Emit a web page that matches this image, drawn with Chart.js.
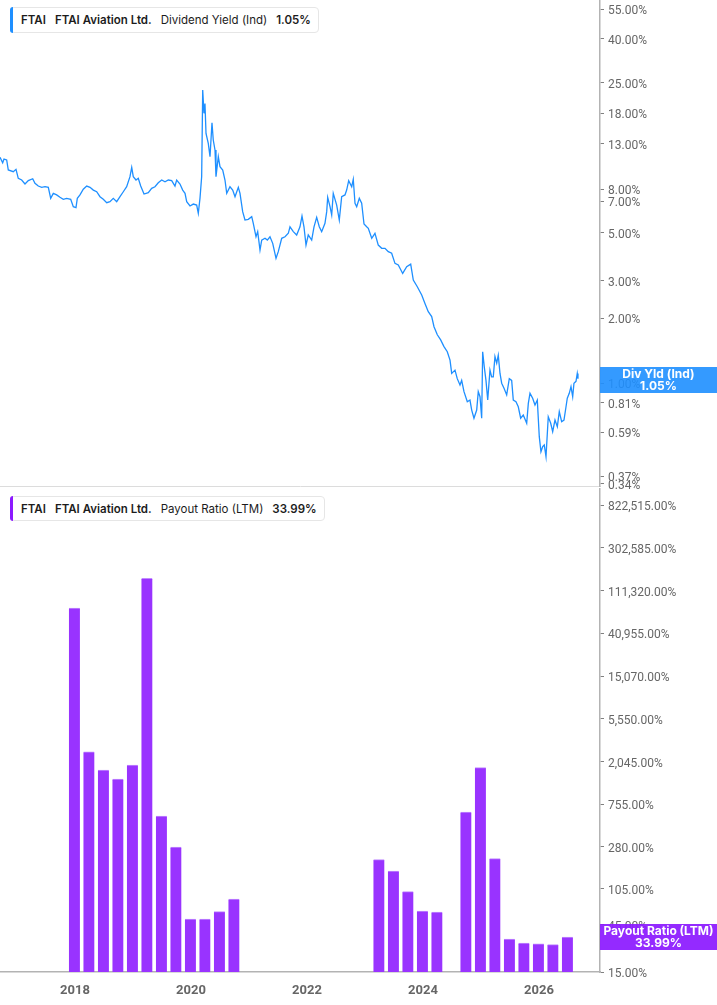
<!DOCTYPE html>
<html lang="en">
<head>
<meta charset="UTF-8">
<title>FTAI - Dividend Yield / Payout Ratio</title>
<script src="https://cdn.jsdelivr.net/npm/chart.js"></script>
<style>
    body { margin: 0; width: 717px; height: 1005px; position: relative; overflow: hidden; background: #fff; font-family: Inter, "Noto Sans", sans-serif; }
    canvas { position: absolute; left: 0; }
    #grafTopo { top: 0; }
    #grafBaixo { top: 488px; }
    .legenda { position: absolute; left: 10px; height: 26px; box-sizing: border-box; background: #fff; border: 1px solid #e6e6e6; border-radius: 4px;
               display: flex; align-items: center; padding: 0 7px 0 10px; font-size: 11.5px; color: #1c1c1c; white-space: nowrap; z-index: 3; }
    .legenda::before { content: ''; position: absolute; left: -1px; top: -1px; bottom: -1px; width: 3px; border-radius: 3px 0 0 3px; background: var(--cor); }
    .legenda b { font-weight: 600; margin-right: 9px; }
    .legenda span { margin-right: 9px; }
    .legenda b:last-child { margin-right: 0; }
    .selo { position: absolute; left: 600px; width: 117px; height: 26px; color: #fff; font-weight: 700; font-size: 12px; line-height: 12px;
            text-align: center; display: flex; flex-direction: column; justify-content: center; z-index: 3; }
</style>
</head>
<body>
    <canvas id="grafTopo" width="717" height="492"></canvas>
    <canvas id="grafBaixo" width="717" height="517"></canvas>

    <div class="legenda" style="top: 7px; --cor: #1e8fff;">
        <b>FTAI</b><b>FTAI Aviation Ltd.</b><span>Dividend Yield (Ind)</span><b>1.05%</b>
    </div>
    <div class="legenda" style="top: 496px; height: 25px; --cor: #8c1aff;">
        <b>FTAI</b><b>FTAI Aviation Ltd.</b><span>Payout Ratio (LTM)</span><b>33.99%</b>
    </div>

    <div class="selo" style="top: 367px; background: rgba(30, 143, 255, 0.9);">Div Yld (Ind)<br>1.05%</div>
    <div class="selo" style="top: 924px; background: rgba(140, 26, 255, 0.93);">Payout Ratio (LTM)<br>33.99%</div>

<script>
    // datas em anos decimais
    const divDates = [
        2016.707, 2016.753, 2016.776, 2016.822, 2016.850, 2016.936, 2016.983, 2017.022, 2017.081, 2017.138,
        2017.195, 2017.271, 2017.310, 2017.367, 2017.426, 2017.483, 2017.540, 2017.581, 2017.626, 2017.684,
        2017.741, 2017.798, 2017.857, 2017.926, 2017.971, 2018.017, 2018.040, 2018.086, 2018.143, 2018.202,
        2018.259, 2018.316, 2018.374, 2018.431, 2018.488, 2018.547, 2018.603, 2018.660, 2018.719, 2018.776,
        2018.833, 2018.891, 2018.948, 2018.978, 2019.005, 2019.052, 2019.091, 2019.133, 2019.190, 2019.264,
        2019.322, 2019.379, 2019.436, 2019.495, 2019.552, 2019.609, 2019.667, 2019.724, 2019.753, 2019.810,
        2019.857, 2019.897, 2019.926, 2019.983, 2020.040, 2020.098, 2020.126, 2020.155, 2020.184, 2020.202,
        2020.224, 2020.241, 2020.259, 2020.298, 2020.328, 2020.362, 2020.384, 2020.414, 2020.431, 2020.471,
        2020.500, 2020.547, 2020.586, 2020.616, 2020.672, 2020.719, 2020.759, 2020.816, 2020.845, 2020.891,
        2020.931, 2020.988, 2021.047, 2021.074, 2021.121, 2021.150, 2021.190, 2021.219, 2021.276, 2021.316,
        2021.362, 2021.409, 2021.466, 2021.505, 2021.564, 2021.621, 2021.678, 2021.707, 2021.764, 2021.822,
        2021.879, 2021.914, 2021.948, 2021.983, 2022.022, 2022.081, 2022.121, 2022.167, 2022.212, 2022.253,
        2022.310, 2022.340, 2022.357, 2022.397, 2022.426, 2022.453, 2022.512, 2022.557, 2022.598, 2022.655,
        2022.684, 2022.719, 2022.771, 2022.798, 2022.828, 2022.857, 2022.902, 2022.943, 2022.983, 2023.029,
        2023.057, 2023.116, 2023.172, 2023.229, 2023.288, 2023.345, 2023.402, 2023.460, 2023.517, 2023.574,
        2023.650, 2023.719, 2023.788, 2023.833, 2023.902, 2023.978, 2024.034, 2024.091, 2024.150, 2024.190,
        2024.247, 2024.305, 2024.362, 2024.419, 2024.466, 2024.495, 2024.552, 2024.591, 2024.638, 2024.667,
        2024.707, 2024.764, 2024.810, 2024.840, 2024.879, 2024.926, 2024.953, 2024.983, 2025.012, 2025.029,
        2025.057, 2025.086, 2025.116, 2025.155, 2025.184, 2025.212, 2025.241, 2025.271, 2025.298, 2025.328,
        2025.357, 2025.397, 2025.443, 2025.488, 2025.529, 2025.557, 2025.603, 2025.643, 2025.684, 2025.729,
        2025.788, 2025.816, 2025.845, 2025.891, 2025.931, 2025.971, 2026.005, 2026.034, 2026.064, 2026.091,
        2026.121, 2026.160, 2026.202, 2026.236, 2026.276, 2026.316, 2026.350, 2026.391, 2026.431, 2026.466,
        2026.488, 2026.522, 2026.552, 2026.581, 2026.603, 2026.638, 2026.660, 2026.672
    ];

    // Dividend Yield (Ind), em %
    const divYield = [
        11.23, 10.60, 11.03, 10.92, 9.81, 9.63, 9.88, 8.97, 8.81, 8.44,
        8.75, 8.93, 8.51, 8.26, 8.15, 8.20, 8.15, 7.24, 7.64, 7.51,
        7.32, 7.17, 7.24, 7.17, 6.62, 6.55, 7.24, 7.51, 7.98, 8.26,
        8.15, 7.91, 7.77, 7.37, 7.17, 6.91, 6.99, 7.24, 6.99, 7.37,
        7.77, 8.20, 9.13, 10.09, 9.13, 8.81, 8.97, 8.26, 7.58, 7.69,
        8.06, 8.20, 8.56, 8.81, 8.65, 8.81, 8.75, 8.26, 8.81, 8.44,
        7.91, 7.64, 6.99, 6.67, 6.81, 6.74, 6.17, 7.24, 9.13, 23.1,
        18.0, 20.0, 14.5, 13.05, 11.31, 16.28, 13.52, 12.15, 9.13, 11.31,
        10.16, 9.81, 8.81, 7.64, 8.20, 7.91, 7.37, 8.15, 7.64, 6.28,
        5.74, 5.78, 5.95, 5.54, 4.80, 5.07, 4.16, 4.63, 4.72, 4.63,
        4.80, 4.47, 3.81, 4.09, 4.72, 4.80, 4.98, 5.34, 5.07, 4.89,
        5.34, 5.99, 5.34, 4.39, 4.89, 4.63, 5.34, 5.91, 5.34, 5.07,
        5.54, 6.28, 7.32, 6.62, 6.06, 7.64, 6.74, 5.74, 7.37, 7.51,
        7.91, 8.75, 8.20, 8.88, 6.87, 6.62, 7.24, 6.87, 5.50, 5.34,
        5.25, 4.72, 4.98, 4.39, 4.24, 4.24, 4.09, 4.02, 3.61, 3.55,
        3.24, 3.48, 3.58, 3.02, 2.81, 2.57, 2.35, 2.15, 2.04, 1.83,
        1.68, 1.59, 1.48, 1.40, 1.28, 1.11, 1.15, 1.05, 0.981, 1.03,
        0.913, 0.820, 0.835, 0.750, 0.687, 0.750, 0.913, 0.865, 0.687, 1.40,
        1.19, 1.03, 0.835, 1.15, 1.07, 1.07, 1.33, 1.24, 1.35, 1.11,
        1.00, 0.947, 0.882, 1.05, 1.03, 0.835, 0.820, 0.777, 0.687, 0.711,
        0.651, 0.806, 0.897, 0.851, 0.792, 0.835, 0.564, 0.480, 0.507, 0.516,
        0.455, 0.698, 0.651, 0.595, 0.674, 0.627, 0.737, 0.662, 0.674, 0.777,
        0.851, 0.897, 0.963, 0.865, 1.00, 1.02, 1.11, 1.05
    ];

    // fim de cada trimestre (anos decimais)
    const payDates = [
        2017.99, 2018.24, 2018.49, 2018.74, 2018.99, 2019.24, 2019.49, 2019.74, 2019.99, 2020.24, 2020.49, 2020.74,
        2023.24, 2023.49, 2023.74, 2023.99, 2024.24,
        2024.74, 2024.99, 2025.24, 2025.49, 2025.74, 2025.99, 2026.24, 2026.49
    ];

    // Payout Ratio (LTM), em %
    const payRatio = [
        74000, 2580, 1680, 1360, 1890, 148000, 574, 278, 51.8, 51.8, 61.4, 82.6,
        207, 159, 98, 62.4, 61,
        631, 1776, 212, 32.4, 29.5, 28.9, 28.4, 33.99
    ];

    const divTicks = [55, 40, 25, 18, 13, 8, 7, 5, 3, 2, 1, 0.81, 0.59, 0.37, 0.34];
    const payTicks = [822515, 302585, 111320, 40955, 15070, 5550, 2045, 755, 280, 105, 45, 15];
    const yearTicks = [2018, 2020, 2022, 2024, 2026];

    const xMin = 2016.707;
    const xMax = 2027.052;

    function pct(v) {
        return v.toLocaleString('en-US', { minimumFractionDigits: 2, maximumFractionDigits: 2 }) + '%';
    }

    const fonteEixo = { family: 'Roboto', size: 12 };

    function eixoY(min, max, lista) {
        return {
            type: 'logarithmic',
            position: 'right',
            min: min,
            max: max,
            bounds: 'data', // sem isso o chart.js arredonda o mínimo
            afterBuildTicks: function (s) { s.ticks = lista.map(v => ({ value: v })); },
            afterFit: function (s) { s.width = 117; s.paddingTop = 0; s.paddingBottom = 0; },
            grid: { drawOnChartArea: false, drawTicks: true, tickLength: 4, color: '#808080' },
            border: { color: '#b3b3b3', width: 1.5 },
            ticks: { autoSkip: false, padding: 4, labelOffset: 2, color: '#666', font: fonteEixo, callback: v => pct(v) }
        };
    }

    // PRIMEIRO GRÁFICO - dividend yield

    const configTopo = {
        type: 'line',
        data: {
            datasets: [{
                label: 'Dividend Yield (Ind)',
                data: divDates.map((d, i) => ({ x: d, y: divYield[i] })),
                borderColor: '#1e8fff',
                borderWidth: 1.3,
                pointRadius: 0,
                tension: 0
            }]
        },
        options: {
            responsive: false,
            animation: false,
            layout: { padding: { top: 0, bottom: 6, left: 0, right: 0 } },
            plugins: { legend: { display: false }, tooltip: { enabled: false } },
            scales: {
                x: {
                    type: 'linear',
                    min: xMin,
                    max: xMax,
                    afterFit: function (s) { s.height = 0; s.paddingLeft = 0; s.paddingRight = 0; },
                    grid: { display: false },
                    border: { color: '#dcdcdc', width: 1 },
                    ticks: { display: false }
                },
                y: eixoY(0.3325, 60.58, divTicks)
            }
        }
    };

    // SEGUNDO GRÁFICO - payout ratio

    const configBaixo = {
        type: 'bar',
        data: {
            datasets: [{
                label: 'Payout Ratio (LTM)',
                data: payDates.map((d, i) => ({ x: d, y: payRatio[i] })),
                backgroundColor: '#9933ff',
                borderColor: '#c08aff',
                borderWidth: { top: 1, left: 0, right: 0, bottom: 0 },
                barThickness: 11
            }]
        },
        options: {
            responsive: false,
            animation: false,
            layout: { padding: 0 },
            plugins: { legend: { display: false }, tooltip: { enabled: false } },
            scales: {
                x: {
                    type: 'linear',
                    min: xMin,
                    max: xMax,
                    offset: false,
                    afterBuildTicks: function (s) { s.ticks = yearTicks.map(v => ({ value: v })); },
                    afterFit: function (s) { s.height = 33; s.paddingLeft = 0; s.paddingRight = 0; },
                    grid: { display: false, offset: false },
                    border: { color: '#b3b3b3', width: 1.5 },
                    ticks: { autoSkip: false, maxRotation: 0, padding: 3, color: '#666',
                             font: { family: 'Roboto', size: 13, weight: 'bold' }, callback: v => String(v) }
                },
                y: eixoY(15, 1224000, payTicks)
            }
        }
    };

    const grafTopo = new Chart(document.getElementById('grafTopo'), configTopo);
    const grafBaixo = new Chart(document.getElementById('grafBaixo'), configBaixo);
</script>
</body>
</html>
